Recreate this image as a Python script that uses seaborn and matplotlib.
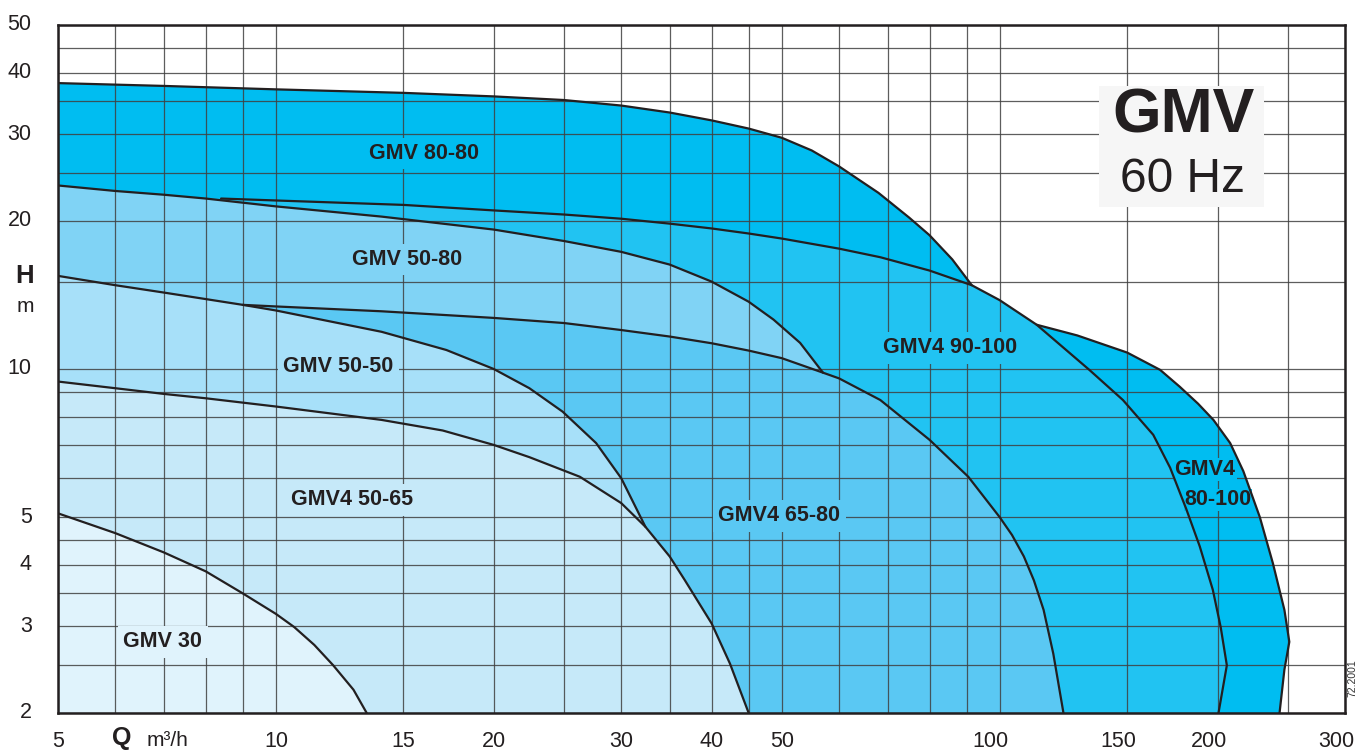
import numpy as np
import pandas as pd
import matplotlib.pyplot as plt
import seaborn as sns
from matplotlib.patches import Rectangle
from matplotlib.transforms import ScaledTranslation

# ==================================
# Pump curves, Q (m3/h) vs H (m)
# ==================================
q_gmv_80_80 = [5, 7, 10, 15, 20, 25, 30, 35, 40, 45, 50, 55, 60, 68, 75, 80, 86, 91.5]
h_gmv_80_80 = [38.1, 37.6, 37.0, 36.4, 35.8, 35.2, 34.3, 33.2, 32.0, 30.8, 29.5, 27.8, 25.8, 22.8, 20.3, 18.7, 16.7, 14.8]

q_gmv4_90_100 = [8.4, 10, 15, 20, 25, 30, 35, 40, 45, 50, 60, 68.4, 80, 91.5, 100, 112.5,
                 133, 148, 163, 172, 181, 189, 197, 202, 206, 200.6]
h_gmv4_90_100 = [22.2, 22.0, 21.55, 21.0, 20.6, 20.2, 19.74, 19.3, 18.85, 18.41, 17.56, 16.87, 15.85, 14.8, 13.8, 12.3,
                 9.96, 8.65, 7.35, 6.3, 5.2, 4.36, 3.56, 2.99, 2.5, 2.0]

q_gmv4_80_100 = [112.5, 128, 150, 166.6, 177.4, 188, 197.4, 208.2, 217.1, 228.8, 238.5, 247.4, 251.3, 247.4, 243.6]
h_gmv4_80_100 = [12.3, 11.7, 10.8, 9.96, 9.2, 8.5, 7.88, 7.07, 6.2, 5.0, 4.03, 3.24, 2.79, 2.45, 2.0]

q_gmv_50_80 = [5, 6, 7, 8, 10, 14, 20, 25, 30, 35, 40, 45, 48.7, 53, 57]
h_gmv_50_80 = [23.6, 23.0, 22.6, 22.2, 21.4, 20.4, 19.2, 18.2, 17.3, 16.3, 15.05, 13.7, 12.6, 11.3, 9.83]

q_gmv4_65_80 = [9, 10, 14, 20, 25, 30, 35, 40, 45, 50, 57, 60, 68.4, 80, 90.5, 100, 104, 108, 111.5, 115,
                118.6, 122.5]
h_gmv4_65_80 = [13.5, 13.4, 13.1, 12.7, 12.4, 12.0, 11.64, 11.28, 10.9, 10.52, 9.83, 9.57, 8.65, 7.18, 6.04,
                5.0, 4.6, 4.16, 3.72, 3.24, 2.64, 2.0]

q_gmv_50_50 = [5, 6, 7, 8, 9, 10, 14, 17.2, 20, 22.4, 24.9, 27.7, 30, 32.4, 35, 36.7, 40, 42.4, 45]
h_gmv_50_50 = [15.46, 14.8, 14.3, 13.87, 13.5, 13.15, 11.9, 10.93, 10.0, 9.14, 8.19, 7.07, 6.0, 4.78, 4.16,
               3.73, 3.04, 2.52, 2.0]

q_gmv4_50_65 = [5, 6, 7, 8, 10, 14, 17, 20, 22.4, 26.3, 30, 32.4]
h_gmv4_50_65 = [9.43, 9.14, 8.9, 8.72, 8.39, 7.88, 7.5, 7.01, 6.62, 6.04, 5.34, 4.78]

q_gmv_30 = [5, 6, 7, 8, 9, 10, 10.6, 11.3, 12, 12.8, 13.35]
h_gmv_30 = [5.09, 4.64, 4.24, 3.88, 3.50, 3.18, 2.99, 2.75, 2.5, 2.23, 2.0]

# axes
x_grid = [5, 6, 7, 8, 9, 10, 15, 20, 25, 30, 35, 40, 45, 50, 60, 70, 80, 90, 100, 150, 200, 250, 300]
x_labels = [5, 10, 15, 20, 30, 40, 50, 100, 150, 200, 300]
y_grid = [2, 2.5, 3, 3.5, 4, 4.5, 5, 6, 7, 8, 9, 10, 15, 20, 25, 30, 35, 40, 45, 50]
y_labels = [2, 3, 4, 5, 10, 20, 30, 40, 50]

# region labels: (text, Q, H)
region_labels = [
    ("GMV 80-80", 16.0, 27.4),
    ("GMV 50-80", 15.2, 16.7),
    ("GMV 50-50", 12.2, 10.1),
    ("GMV4 50-65", 12.75, 5.42),
    ("GMV 30", 6.98, 2.79),
    ("GMV4 65-80", 49.6, 5.03),
    ("GMV4 90-100", 85.4, 11.04),
    ("GMV4", 192.2, 6.24),
    ("80-100", 200.5, 5.42),
]

C_BRIGHT = "#00BDF1"
C_90_100 = "#21C3F2"
C_50_80 = "#80D3F5"
C_65_80 = "#5AC8F3"
C_50_50 = "#A7E0F9"
C_50_65 = "#C6E9F9"
C_30 = "#E0F3FC"
INK = "#231F20"

label_colors = [C_BRIGHT, C_50_80, C_50_50, C_50_65, C_30, C_65_80, C_90_100, C_BRIGHT, C_BRIGHT]
label_pads = [0.25, 0.25, 0.25, 0.25, 0.25, 0.25, 0.25, 0.05, 0.02]


def pick(q, h, lo, hi):
    q = np.asarray(q, float)
    h = np.asarray(h, float)
    m = (q > lo) & (q < hi)
    return list(q[m]), list(h[m])


# ==================================
# Figure
# ==================================
sns.set_theme(style="white")
plt.rcParams['font.family'] = ['Liberation Sans', 'DejaVu Sans']

W, H = 1369, 752
fig = plt.figure(figsize=(W / 100, H / 100), dpi=100)
ax = fig.add_axes([58 / W, 1 - 713 / H, (1345 - 58) / W, (713 - 25) / H])
ax.set_xscale('log')
ax.set_yscale('log')
ax.set_xlim(5, 300)
ax.set_ylim(2, 50)

# filled regions, painted back to front
qa, ha = pick(q_gmv4_90_100, h_gmv4_90_100, 91.5, 112.5)
q1, h1 = q_gmv_80_80 + qa + q_gmv4_80_100, h_gmv_80_80 + ha + h_gmv4_80_100

qa, ha = pick(q_gmv_50_80, h_gmv_50_80, 0, 8.4)
q2, h2 = qa + q_gmv4_90_100, ha + h_gmv4_90_100

qa, ha = pick(q_gmv4_65_80, h_gmv4_65_80, 57, 1000)
q3, h3 = q_gmv_50_80 + qa, h_gmv_50_80 + ha

qa, ha = pick(q_gmv_50_50, h_gmv_50_50, 0, 9)
q4, h4 = qa + q_gmv4_65_80, ha + h_gmv4_65_80

q5, h5 = q_gmv_50_50, h_gmv_50_50

qa, ha = pick(q_gmv_50_50, h_gmv_50_50, 32.4, 1000)
q6, h6 = q_gmv4_50_65 + qa, h_gmv4_50_65 + ha

q7, h7 = q_gmv_30, h_gmv_30

for q, h, c in [(q1, h1, C_BRIGHT), (q2, h2, C_90_100), (q3, h3, C_50_80), (q4, h4, C_65_80),
                (q5, h5, C_50_50), (q6, h6, C_50_65), (q7, h7, C_30)]:
    ax.fill(list(q) + [5], list(h) + [2], color=c, lw=0, zorder=1)

# curve outlines
curves = [
    (q_gmv_80_80, h_gmv_80_80), (q_gmv4_90_100, h_gmv4_90_100), (q_gmv4_80_100, h_gmv4_80_100),
    (q_gmv_50_80, h_gmv_50_80), (q_gmv4_65_80, h_gmv4_65_80), (q_gmv_50_50, h_gmv_50_50),
    (q_gmv4_50_65, h_gmv4_50_65), (q_gmv_30, h_gmv_30),
]
for q, h in curves:
    df = pd.DataFrame({"Q": q, "H": h})
    sns.lineplot(data=df, x="Q", y="H", sort=False, estimator=None, color=INK, lw=1.6, ax=ax, zorder=5,
                 solid_joinstyle='round', solid_capstyle='round')

# grid / ticks
ax.xaxis.set_minor_locator(plt.NullLocator())
ax.yaxis.set_minor_locator(plt.NullLocator())
ax.set_xticks(x_grid)
ax.set_xticklabels([str(v) if v in x_labels else "" for v in x_grid])
ax.set_yticks(y_grid)
ax.set_yticklabels([f"{v:g}" if v in y_labels else "" for v in y_grid])
ax.set_axisbelow(False)
ax.grid(True, which='major', color="#404040", lw=0.9, alpha=0.85)
ax.tick_params(axis='both', length=0, labelsize=15.5, colors=INK)
ax.tick_params(axis='x', pad=13)
ax.tick_params(axis='y', pad=19)
ax.set_xlabel("")
ax.set_ylabel("")
for lab in ax.get_xticklabels():
    if len(lab.get_text()) == 3:
        lab.set_transform(lab.get_transform() + ScaledTranslation(-0.09, 0, fig.dpi_scale_trans))
for lab in ax.get_yticklabels():
    lab.set_transform(lab.get_transform() + ScaledTranslation(0, 0.025, fig.dpi_scale_trans))
for sp in ax.spines.values():
    sp.set_visible(True)
    sp.set_color(INK)
    sp.set_linewidth(1.8)
    sp.set_zorder(6)

# region labels
for (txt, q, h), c, p in zip(region_labels, label_colors, label_pads):
    ax.text(q, h, txt, ha='center', va='center', fontsize=15.5, fontweight='bold', color=INK, zorder=4,
            bbox=dict(boxstyle=f'square,pad={p}', fc=c, ec='none'))


def px(x, y):
    return x / W, 1 - y / H


# title box
fig.add_artist(Rectangle(px(1099, 207), 165 / W, 121 / H, transform=fig.transFigure,
                         facecolor="#F6F6F6", edgecolor='none', zorder=2))
fig.text(*px(1184, 116), "GMV", ha='center', va='center', fontsize=45, fontweight='bold', color=INK, zorder=3)
fig.text(*px(1183, 179), "60 Hz", ha='center', va='center', fontsize=34.5, color=INK, zorder=3)

# axis titles
fig.text(*px(25, 276), "H", ha='center', va='center', fontsize=18.5, fontweight='bold', color=INK)
fig.text(*px(25, 306), "m", ha='center', va='center', fontsize=15, color=INK)
fig.text(*px(122, 745), "Q", ha='center', va='baseline', fontsize=18, fontweight='bold', color=INK)
fig.text(*px(167, 746), "m\u00b3/h", ha='center', va='baseline', fontsize=15, color=INK)
fig.text(*px(1352, 678), "72.2001", ha='center', va='center', fontsize=7.5, rotation=90, color="#333333")

fig.savefig("out.png", dpi=100)
